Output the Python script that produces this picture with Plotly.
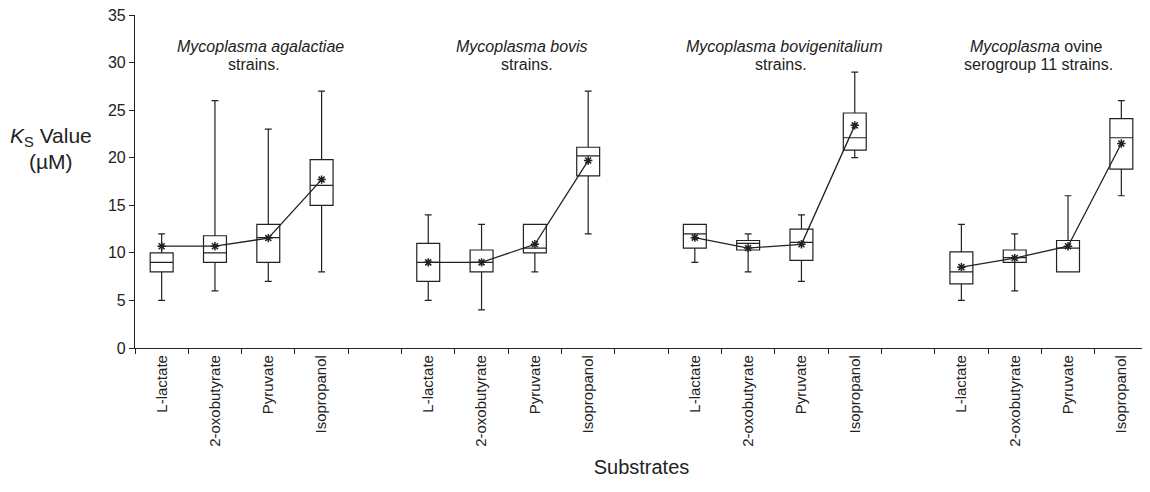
import plotly.graph_objects as go

substrates = ["L-lactate", "2-oxobutyrate", "Pyruvate", "Isopropanol"]
title_line1 = [
    "<i>Mycoplasma agalactiae</i>",
    "<i>Mycoplasma bovis</i>",
    "<i>Mycoplasma bovigenitalium</i>",
    "<i>Mycoplasma</i> ovine",
]
title_line2 = ["strains.", "strains.", "strains.", "serogroup 11 strains."]
y_title_lines = ["<i>K</i><sub>S</sub> Value", "(µM)"]
# per group, per substrate
lower_fence = [[5, 6, 7, 8], [5, 4, 8, 12], [9, 8, 7, 20], [5, 6, 8, 16]]
q1_vals = [[8, 9, 9, 15], [7, 8, 10, 18.1], [10.5, 10.3, 9.2, 20.8], [6.75, 9, 8, 18.8]]
median_vals = [[9, 10, 11.6, 17.1], [9, 9, 10.5, 20.2], [12, 11, 11.1, 22.1], [8, 9.5, 10.5, 22.1]]
q3_vals = [[10, 11.8, 13, 19.8], [11, 10.3, 13, 21.1], [13, 11.3, 12.5, 24.7], [10.1, 10.3, 11.3, 24.1]]
upper_fence = [[12, 26, 23, 27], [14, 13, 13, 27], [13, 12, 14, 29], [13, 12, 16, 26]]
mean_vals = [[10.7, 10.7, 11.55, 17.7], [9, 9, 10.9, 19.7], [11.6, 10.5, 10.9, 23.4], [8.5, 9.45, 10.7, 21.5]]
title1_x = [2.35, 7.26, 12.18, 16.9]
title2_x = [2.23, 7.35, 12.12, 16.94]

FONT = "Liberation Sans, Arial, sans-serif"
n_groups = len(title_line1)
slot = len(substrates) + 1

xs, q1, med, q3, lo, hi = [], [], [], [], [], []
tickvals, ticktext = [], []
for g in range(n_groups):
    for i, s in enumerate(substrates):
        x = g * slot + i + 0.5
        xs.append(x)
        q1.append(q1_vals[g][i]); med.append(median_vals[g][i]); q3.append(q3_vals[g][i])
        lo.append(lower_fence[g][i]); hi.append(upper_fence[g][i])
        tickvals.append(x); ticktext.append(s)

fig = go.Figure()
fig.add_trace(go.Box(
    x=xs, q1=q1, median=med, q3=q3, lowerfence=lo, upperfence=hi,
    width=0.43, whiskerwidth=0.3, boxpoints=False,
    fillcolor="white", line=dict(color="#222", width=1.2), showlegend=False,
))
for g in range(n_groups):
    gx = [g * slot + i + 0.5 for i in range(len(substrates))]
    fig.add_trace(go.Scatter(
        x=gx, y=mean_vals[g], mode="lines+markers",
        line=dict(color="#222", width=1.3),
        marker=dict(symbol="asterisk-open", size=7, color="#222", line=dict(width=1.5, color="#222")),
        showlegend=False,
    ))
    fig.add_annotation(
        x=title1_x[g], y=31.65, xref="x", yref="y",
        text=title_line1[g], showarrow=False,
        font=dict(family=FONT, size=16, color="#222"),
    )
    fig.add_annotation(
        x=title2_x[g], y=29.75, xref="x", yref="y",
        text=title_line2[g], showarrow=False,
        font=dict(family=FONT, size=16, color="#222"),
    )

for txt, yp in zip(y_title_lines, [0.634, 0.559]):
    fig.add_annotation(
        x=-0.083, y=yp, xref="paper", yref="paper", xanchor="center", yanchor="middle",
        text=txt, showarrow=False,
        font=dict(family=FONT, size=21, color="#222"),
    )

# page body has an 8px margin, so the figure is drawn 8px smaller
fig.update_layout(
    width=1142, height=484,
    margin=dict(l=127, r=2, t=7, b=144, autoexpand=False),
    plot_bgcolor="white", paper_bgcolor="white",
    font=dict(family=FONT, color="#222"),
    xaxis=dict(
        range=[0, n_groups * slot - 1], tickvals=tickvals, ticktext=ticktext,
        tickangle=-90, ticks="", showgrid=False, zeroline=False, automargin=False,
        showline=True, linecolor="#222", linewidth=1.2,
        tickfont=dict(size=15),
        minor=dict(tick0=0, dtick=1, ticks="outside", ticklen=5, tickcolor="#222", showgrid=False),
        title=dict(text="Substrates", font=dict(size=20), standoff=14),
    ),
    yaxis=dict(
        range=[0, 35], dtick=5, ticks="outside", ticklen=5, tickcolor="#222",
        showgrid=False, zeroline=False, showline=True, linecolor="#222", linewidth=1.2,
        tickfont=dict(size=16), automargin=False, ticklabeloverflow="allow",
    ),
)

fig.write_html("out.html")
